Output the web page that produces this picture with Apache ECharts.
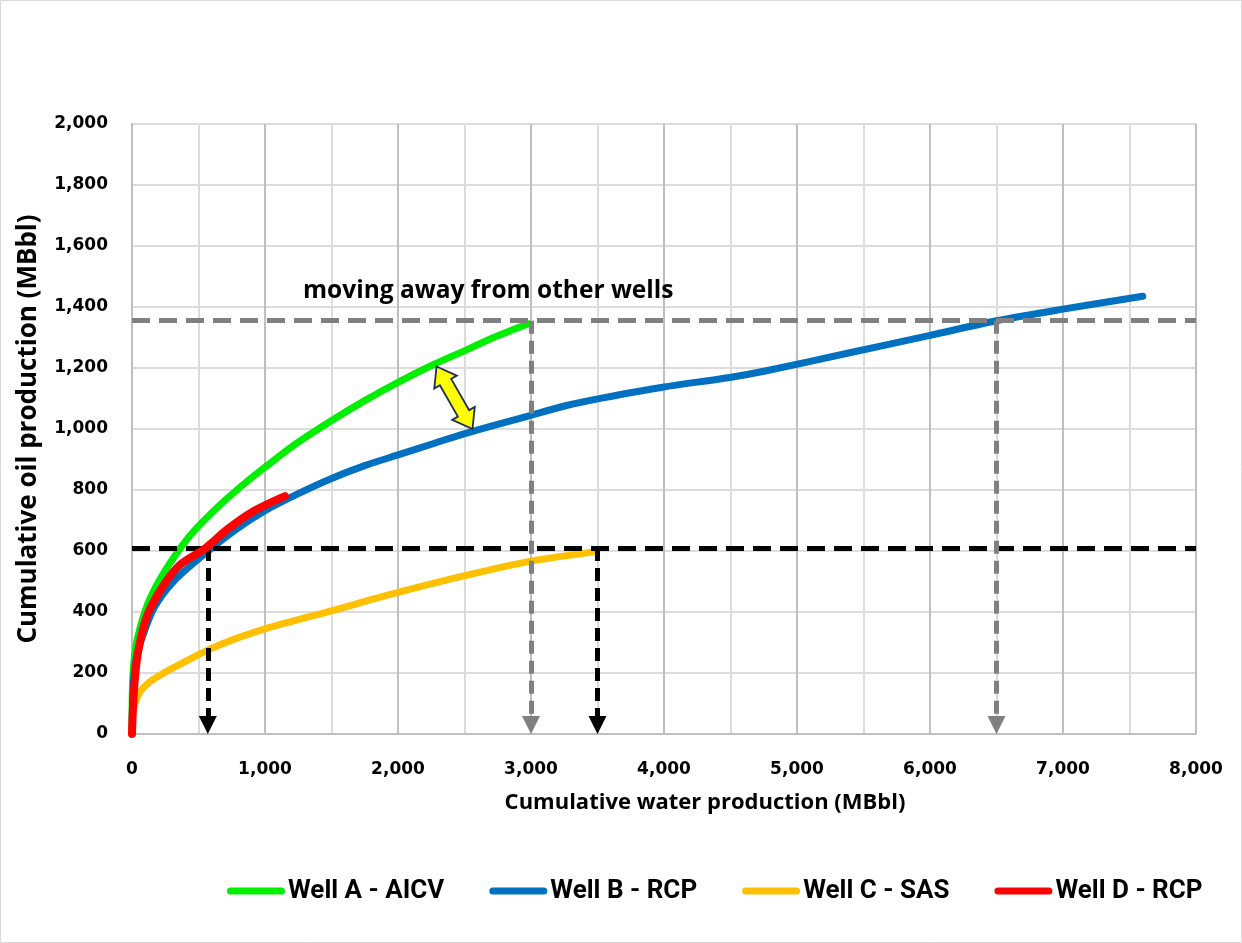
<!DOCTYPE html>
<html>
<head>
<meta charset="utf-8">
<script src="https://cdn.jsdelivr.net/npm/echarts@6/dist/echarts.min.js"></script>
<style>
  html, body { margin: 0; padding: 0; background: #fff; }
  #chart { width: 1242px; height: 943px; }
</style>
</head>
<body>
<div id="chart"></div>
<script>
// Well names (legend order)
const wellNames = ['Well A - AICV', 'Well B - RCP', 'Well C - SAS', 'Well D - RCP'];

// Cumulative water (MBbl) vs cumulative oil (MBbl) for each well
const wellA = [[0, 0], [3, 150], [15, 240], [43, 317], [118, 426], [218, 513], [368, 612], [469, 667],
  [669, 754], [870, 830], [995, 873], [1221, 948], [1499, 1027], [1750, 1093], [2000, 1153],
  [2276, 1213], [2502, 1257], [2702, 1297], [2980, 1345]];
const wellB = [[0, 0], [10, 160], [30, 245], [68, 306], [168, 415], [319, 503], [545, 590], [770, 667],
  [1000, 732], [1250, 788], [1500, 838], [1750, 880], [2000, 915], [2250, 950], [2502, 985],
  [2990, 1044], [3266, 1077], [3541, 1102], [3988, 1137], [4494, 1169], [4770, 1191], [5396, 1250],
  [6000, 1307], [6500, 1355], [7000, 1393], [7600, 1435]];
const wellC = [[0, 0], [5, 60], [18, 92], [60, 138], [130, 170], [250, 203], [368, 230], [569, 275],
  [770, 311], [995, 344], [1499, 404], [2000, 464], [2502, 519], [2990, 566], [3490, 598]];
const wellD = [[0, 0], [13, 131], [43, 262], [118, 393], [244, 492], [368, 557], [545, 607], [720, 672],
  [920, 732], [1150, 780]];

// Axis ticks
const waterTicks = [0, 1000, 2000, 3000, 4000, 5000, 6000, 7000, 8000];
const oilTicks = [0, 200, 400, 600, 800, 1000, 1200, 1400, 1600, 1800, 2000];

// Reference levels: oil level and the water volumes where each well reaches it
const oilHigh = 1355;
const waterAtOilHigh = [3000, 6500];
const oilLow = 610;
const waterAtOilLow = [570, 3500];

// Divergence arrow between Well A and Well B (water, oil)
const gapArrow = [[2290, 1205], [2560, 1000]];

const colors = ['#00ee00', '#0070c0', '#ffc000', '#ff0000'];
const wellData = [wellA, wellB, wellC, wellD];

const grid = { left: 132, right: 46, top: 124, bottom: 209 };
const plotHeight = 943 - grid.top - grid.bottom;
const yMin = oilTicks[0], yMax = oilTicks[oilTicks.length - 1];
const arrowSize = 18;
const arrowLift = (arrowSize / 2) * (yMax - yMin) / plotHeight;

const chart = echarts.init(document.getElementById('chart'), null, { renderer: 'canvas' });

const grayDash = { color: '#808080', width: 5, type: [18, 9] };
const grayDashV = { color: '#808080', width: 5, type: [13, 7] };
const blackDash = { color: '#000000', width: 5, type: [18, 9] };
const blackDashV = { color: '#000000', width: 5, type: [13, 7] };

function hLine(y, style) {
  return [
    { coord: [waterTicks[0], y], lineStyle: style, symbol: 'none' },
    { coord: [waterTicks[waterTicks.length - 1], y], symbol: 'none' }
  ];
}
function dropLine(x, y, style) {
  return [
    { coord: [x, y], lineStyle: style, symbol: 'none' },
    { coord: [x, yMin + arrowLift], symbol: 'triangle', symbolSize: [arrowSize, arrowSize] }
  ];
}

const guideLines = [
  hLine(oilHigh, grayDash),
  hLine(oilLow, blackDash),
  ...waterAtOilHigh.map(x => dropLine(x, oilHigh, grayDashV)),
  ...waterAtOilLow.map(x => dropLine(x, oilLow, blackDashV))
];

const series = wellNames.map((name, i) => ({
  name,
  type: 'line',
  data: wellData[i],
  showSymbol: false,
  symbol: 'none',
  smooth: 0.3,
  color: colors[i],
  lineStyle: { width: i === 3 ? 8 : 7, color: colors[i], cap: 'round', join: 'round' },
  itemStyle: { color: colors[i] },
  z: 2 + i,
  animation: false
}));

series.push({
  name: 'guides',
  type: 'line',
  data: [],
  animation: false,
  z: 10,
  markLine: {
    silent: true,
    animation: false,
    symbol: 'none',
    label: { show: false },
    emphasis: { disabled: true },
    data: guideLines.map(pair => {
      const c = pair[0].lineStyle.color;
      pair[0].itemStyle = { color: c };
      pair[1].itemStyle = { color: c };
      return pair;
    })
  }
});

const tickFont = {
  fontFamily: '"DejaVu Sans", sans-serif',
  fontWeight: 'bold',
  fontSize: 17,
  color: '#000',
  formatter: v => v.toLocaleString('en-US')
};

const option = {
  backgroundColor: '#ffffff',
  animation: false,
  grid: Object.assign({ containLabel: false }, grid),
  legend: {
    data: wellNames,
    left: 222,
    top: 873,
    itemWidth: 58,
    itemHeight: 7,
    itemGap: 45,
    icon: 'path://M3.5,0 L54.5,0 A3.5,3.5 0 0 1 54.5,7 L3.5,7 A3.5,3.5 0 0 1 3.5,0 Z',
    selectedMode: false,
    textStyle: {
      fontFamily: 'Roboto, sans-serif',
      fontWeight: 'bold',
      fontSize: 26,
      color: '#000',
      padding: [0, 0, 0, -2]
    }
  },
  xAxis: {
    type: 'value',
    min: waterTicks[0],
    max: waterTicks[waterTicks.length - 1],
    interval: waterTicks[1] - waterTicks[0],
    name: 'Cumulative water production (MBbl)',
    nameLocation: 'middle',
    nameGap: 58,
    nameTextStyle: {
      fontFamily: '"Open Sans", sans-serif',
      fontWeight: 'bold',
      fontSize: 22,
      color: '#000',
      padding: [0, 0, 0, 82]
    },
    axisLine: { show: true, lineStyle: { color: '#bfbfbf', width: 2 } },
    axisTick: { show: false },
    axisLabel: Object.assign({ margin: 27 }, tickFont),
    splitLine: { show: true, lineStyle: { color: '#bfbfbf', width: 2 } },
    minorTick: { show: false, splitNumber: 2 },
    minorSplitLine: { show: true, lineStyle: { color: '#dcdcdc', width: 2 } }
  },
  yAxis: {
    type: 'value',
    min: yMin,
    max: yMax,
    interval: oilTicks[1] - oilTicks[0],
    name: 'Cumulative oil production (MBbl)',
    nameLocation: 'middle',
    nameGap: 90,
    nameTextStyle: {
      fontFamily: '"Open Sans", sans-serif',
      fontWeight: 'bold',
      fontSize: 26,
      color: '#000'
    },
    axisLine: { show: true, lineStyle: { color: '#bfbfbf', width: 2 } },
    axisTick: { show: false },
    axisLabel: Object.assign({ margin: 24 }, tickFont),
    splitLine: { show: true, lineStyle: { color: '#dcdcdc', width: 2 } }
  },
  series,
  graphic: [
    {
      id: 'frame',
      type: 'rect',
      shape: { x: 0.5, y: 0.5, width: 1241, height: 942 },
      style: { fill: 'none', stroke: '#d9d9d9', lineWidth: 1 },
      silent: true,
      z: 100
    },
    {
      id: 'note',
      type: 'text',
      left: 303,
      top: 279,
      style: {
        text: 'moving away from other wells',
        fontFamily: '"Open Sans", sans-serif',
        fontWeight: 'bold',
        fontSize: 24.5,
        fill: '#000'
      },
      z: 100
    }
  ]
};

chart.setOption(option);

// Double-headed arrow between the two curves, placed through the axis scales
function doubleArrow(a, b) {
  const dx = b[0] - a[0], dy = b[1] - a[1];
  const len = Math.sqrt(dx * dx + dy * dy);
  const ux = dx / len, uy = dy / len;
  const nx = -uy, ny = ux;
  const head = 18, headHalf = 13, shaftHalf = 6.5;
  const pt = (u, v) => [a[0] + ux * u + nx * v, a[1] + uy * u + ny * v];
  return [
    pt(0, 0),
    pt(head, headHalf), pt(head, shaftHalf),
    pt(len - head, shaftHalf), pt(len - head, headHalf),
    pt(len, 0),
    pt(len - head, -headHalf), pt(len - head, -shaftHalf),
    pt(head, -shaftHalf), pt(head, -headHalf)
  ];
}
const pA = chart.convertToPixel({ gridIndex: 0 }, gapArrow[0]);
const pB = chart.convertToPixel({ gridIndex: 0 }, gapArrow[1]);
chart.setOption({
  graphic: [{
    id: 'gapArrow',
    type: 'polygon',
    shape: { points: doubleArrow(pA, pB) },
    style: { fill: '#ffff00', stroke: '#1f2d50', lineWidth: 1.8, lineJoin: 'miter' },
    silent: true,
    z: 100
  }]
});
</script>
</body>
</html>
